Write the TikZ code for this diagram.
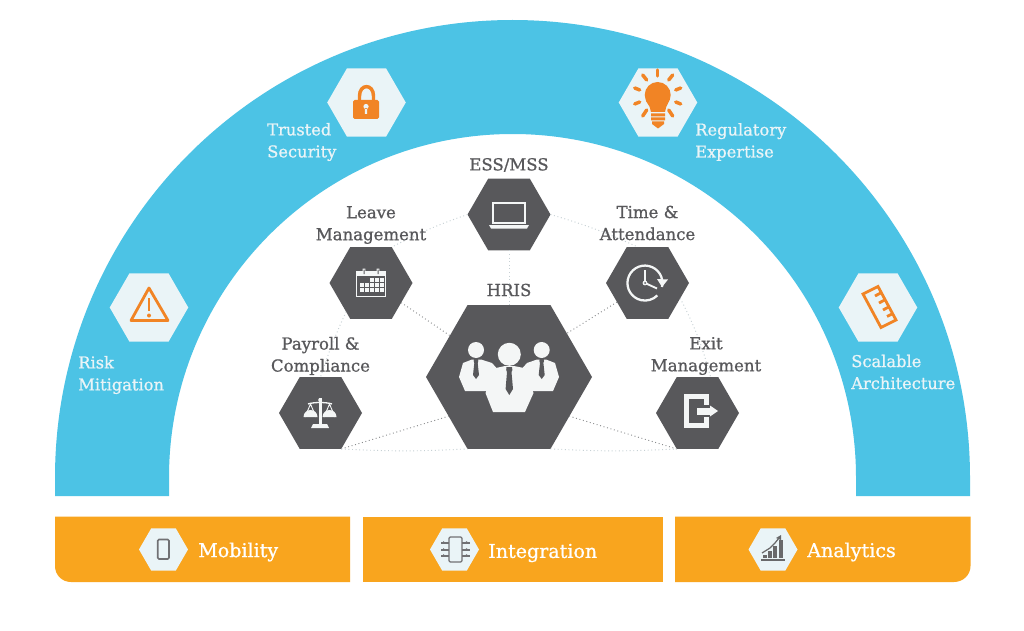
\documentclass[tikz,border=0pt]{standalone}
\usepackage{fontspec}
\setmainfont{DejaVu Serif}[FakeBold=0.9]
\usetikzlibrary{shapes.geometric}
\definecolor{skyband}{HTML}{4CC3E5}
\definecolor{barorange}{HTML}{F9A51E}
\definecolor{paleblue}{HTML}{EAF4F7}
\definecolor{slate}{HTML}{58585B}
\definecolor{iconorange}{HTML}{F18425}
\definecolor{iconwhite}{HTML}{F4F6F6}
\definecolor{linkgrey}{HTML}{8A8C8E}
\definecolor{linklight}{HTML}{C6D0D4}
\tikzset{
  hexbase/.style={regular polygon,regular polygon sides=6,inner sep=0pt,outer sep=0pt,draw=none},
  hexbig/.style={hexbase,fill=slate,minimum size=124.5pt},
  hexdark/.style={hexbase,fill=slate,minimum size=62.25pt},
  hexpale/.style={hexbase,fill=paleblue,minimum size=58.9pt},
  hextiny/.style={hexbase,fill=paleblue,minimum size=36.75pt},
  darklabel/.style={text=slate,align=center,font=\fontsize{12.4}{16.5}\selectfont,inner sep=0pt},
  bandlabel/.style={text=paleblue,align=left,anchor=west,font=\fontsize{12.2}{16.5}\selectfont,inner sep=0pt},
  barlabel/.style={text=white,anchor=west,font=\fontsize{14.3}{17}\selectfont,inner sep=0pt},
  linkdark/.style={draw=linkgrey,line width=.7pt,dotted},
  linkpale/.style={draw=linklight,line width=.7pt,dotted},
  orangeline/.style={draw=iconorange,line width=2.1pt},
  greyline/.style={draw=slate!85,line width=.9pt}
}
\begin{document}
\begin{tikzpicture}[x=.75pt,y=-.75pt]
\useasboundingbox (0,0) rectangle (1024,631);
\fill[white] (0,0) rectangle (1024,631);
% band
\fill[skyband] (55,496) -- (55,477.5) arc[start angle=180,end angle=360,radius=457.5] -- (970,496) -- (856,496) -- (856,477.5) arc[start angle=360,end angle=180,radius=343.5] -- (169,496) -- cycle;
% bars
\fill[barorange] (350,516.5) -- (350,582) -- (71,582) .. controls (62,582) and (55,575) .. (55,566) -- (55,516.5) -- cycle;
\fill[barorange] (363,516.5) rectangle (662.7,582);
\fill[barorange] (675,516.5) -- (970.5,516.5) -- (970.5,566) .. controls (970.5,575) and (963,582) .. (954,582) -- (675,582) -- cycle;
% hexagons
\node[hexbig] (hris) at (509,377) {};
\node[hexdark] (ess) at (509,214.5) {};
\node[hexdark] (leave) at (371,283) {};
\node[hexdark] (time) at (647.5,283) {};
\node[hexdark] (payroll) at (320.5,413) {};
\node[hexdark] (exit) at (697.5,413) {};
\node[hexpale] (trusted) at (366.5,102.5) {};
\node[hexpale] (risk) at (149,307.5) {};
\node[hexpale] (regul) at (658,102.5) {};
\node[hexpale] (scal) at (878,307.5) {};
\node[hextiny] (mob) at (163.5,549.5) {};
\node[hextiny] (integ) at (454.5,549.5) {};
\node[hextiny] (anal) at (773,549.5) {};
% connectors
\draw[linkpale] (ess.corner 3) to[bend right=4] (leave.corner 1);
\draw[linkpale] (ess.corner 6) to[bend left=4] (time.105);
\draw[linkpale] (leave.229) to[bend right=3] (payroll.90);
\draw[linkpale] (time.-25) to[bend left=6] (exit.70);
\draw[linkpale] (ess.270) -- (hris.90);
\draw[linkdark] (leave.-33) -- (hris.145);
\draw[linkdark] (time.212) -- (hris.37);
\draw[linkdark] (payroll.corner 5) -- (hris.213);
\draw[linkdark] (exit.corner 4) -- (hris.-33);
\draw[linkpale] (payroll.corner 5) to[bend right=3] (hris.corner 4);
\draw[linkpale] (hris.corner 5) to[bend right=3] (exit.corner 4);
% labels
\node[darklabel] (lhris) at (509,290) {HRIS};
\node[darklabel] (less) at (509,165) {ESS/MSS};
\node[darklabel] (lleave) at (371,225) {Leave\\Management};
\node[darklabel] (ltime) at (647.5,223) {Time \&\\Attendance};
\node[darklabel] (lpay) at (320.5,356) {Payroll \&\\Compliance};
\node[darklabel] (lexit) at (706,356) {Exit\\Management};
\node[bandlabel] (ltrust) at (267,142) {Trusted\\Security};
\node[bandlabel] (lreg) at (695,142) {Regulatory\\Expertise};
\node[bandlabel] (lrisk) at (78,375) {Risk\\Mitigation};
\node[bandlabel] (lscal) at (851,372) {Scalable\\Architecture};
\node[barlabel] (lmob) at (198,552) {Mobility};
\node[barlabel] (lint) at (488,553) {Integration};
\node[barlabel] (lana) at (807,552) {Analytics};
% lock
\draw[iconorange,line width=2.6pt] (359.5,102) -- (359.5,96) .. controls (359.5,83.5) and (373.5,83.5) .. (373.5,96) -- (373.5,102);
\fill[iconorange,rounded corners=1.2pt] (353,100) rectangle (379,119);
\fill[paleblue] (366,106.5) circle (2.6) (364.8,108) rectangle (367.2,114);
% warning
\draw[orangeline,line join=round] (149,288) -- (131,320.5) -- (168,320.5) -- cycle;
\draw[iconorange,line width=2.1pt] (149,298) -- (149,311);
\fill[iconorange] (149,315.5) circle (2);
% bulb
\fill[iconorange] (657.7,95) circle (13);
\fill[iconorange] (646,101) .. controls (649,106) and (651,108) .. (651,112) -- (665,112) .. controls (665,108) and (667,106) .. (669,101) -- cycle;
\fill[iconorange] (651,113.5) rectangle (665,116.5) (651,117.5) rectangle (665,120.5) (652,121.5) rectangle (664,124);
\fill[iconorange] (652,124) -- (658,128.5) -- (664,124) -- cycle;
\foreach \dx/\dy/\ex/\ey in {0/-19/0/-25,11/-15/15/-20,18/-5/23/-7,18/7/23/9,11/15/15/21,-11/-15/-15/-20,-18/-5/-23/-7,-18/7/-23/9,-11/15/-15/21}
  \draw[iconorange,line width=2.6pt,line cap=round] (657.7+\dx,95+\dy) -- (657.7+\ex,95+\ey);
% ruler
\draw[orangeline,line join=miter] (863,294) -- (878,286.5) -- (896,320) -- (881,327.5) -- cycle;
\draw[orangeline] (881.5,292.5) -- (875,296) (885.5,299.5) -- (879,303) (889.5,306.5) -- (883,310) (893,313.5) -- (887,316.5);
% laptop
\draw[iconwhite,line width=1.5pt] (492.5,202.5) rectangle (524.5,223);
\fill[iconwhite] (489,225) -- (529,225) -- (527,228.5) -- (491,228.5) -- cycle;
% calendar
\draw[iconwhite,line width=1.2pt] (356.5,271.5) rectangle (385.5,296.5);
\fill[iconwhite] (356.5,271.5) rectangle (385.5,276);
\fill[iconwhite] (362.7,268.5) rectangle (365.3,274.5) (376.7,268.5) rectangle (379.3,274.5);
\fill[slate] (363.5,269.5) rectangle (364.5,274) (377.5,269.5) rectangle (378.5,274);
\foreach \cx/\cy in {372/280,377/280,382/280,362/285,367/285,372/285,377/285,382/285,362/290,367/290,372/290,377/290,382/290}
  \fill[iconwhite] (\cx-2,\cy-1.8) rectangle (\cx+2,\cy+1.8);
% clock
\draw[iconwhite,line width=1.7pt] (662,287) arc[start angle=13,end angle=-315,radius=17.5];
\fill[iconwhite] (657,279) -- (668,279.5) -- (662,287) -- cycle;
\draw[iconwhite,line width=1.4pt] (645,270) -- (645,283) -- (657,288.5);
\fill[iconwhite] (645,283) circle (2.4);
\fill[slate] (645,283) circle (1);
% scales
\fill[iconwhite] (319,398) rectangle (321.5,424);
\fill[iconwhite] (320.2,400) circle (2);
\fill[iconwhite] (313,424) -- (327,424) -- (329,428) -- (311,428) -- cycle;
\draw[iconwhite,line width=1pt] (308,404) .. controls (314,402) and (326,402) .. (332,404);
\draw[iconwhite,line width=.7pt] (305,417) -- (310.5,404) -- (316,417) (324,417) -- (329.5,404) -- (335,417);
\fill[iconwhite] (303.5,417) arc[start angle=180,end angle=360,radius=7] -- cycle;
\fill[iconwhite] (322.5,417) arc[start angle=180,end angle=360,radius=7] -- cycle;
% exit
\fill[iconwhite] (684,394) rectangle (709,428);
\fill[slate] (689,399) rectangle (704,423);
\fill[slate] (704,405) rectangle (710,417);
\fill[iconwhite] (697,407.5) rectangle (710,414.5);
\fill[iconwhite] (710,405.5) -- (718,411) -- (710,416.5) -- cycle;
% people
\fill[iconwhite] (476,350) circle (8) (541.7,350) circle (8);
\fill[iconwhite] (463,363) -- (472,359.5) -- (481,359.5) -- (492,363) -- (500,372) -- (492,391) -- (465,391) -- (459,377) -- cycle;
\fill[iconwhite] (555,363) -- (546,359.5) -- (537,359.5) -- (527,363) -- (519,372) -- (527,391) -- (553,391) -- (559,377) -- cycle;
\fill[iconwhite] (509.3,354.3) circle (11.5);
\fill[iconwhite] (496,368) -- (505,366) -- (514,366) -- (524,368) -- (533.5,393) -- (525,412) -- (493,412) -- (485.5,393) -- cycle;
\fill[slate] (474,359) -- (478,359) -- (478.3,361) -- (477.7,363) -- (479,375) -- (476,379) -- (473,375) -- (474.3,363) -- (473.7,361) -- cycle;
\fill[slate] (539.7,359) -- (543.7,359) -- (544,361) -- (543.4,363) -- (544.7,375) -- (541.7,379) -- (538.7,375) -- (540,363) -- (539.4,361) -- cycle;
\fill[slate] (506.5,367) -- (512,367) -- (512.4,370) -- (511.5,372) -- (513,389) -- (509.3,395) -- (505.6,389) -- (507,372) -- (506.2,370) -- cycle;
% phone
\draw[greyline,line width=1.2pt,rounded corners=1pt] (157.7,539.5) rectangle (169,559);
% chip
\draw[greyline,rounded corners=1pt] (449,537) rectangle (462,562);
\foreach \py in {543,550,556}{
  \draw[greyline] (441,\py) -- (449,\py) (462,\py) -- (470,\py);
  \fill[slate!85] (443,\py-2) -- (446,\py) -- (443,\py) -- cycle (467,\py-2) -- (464,\py) -- (467,\py) -- cycle;
}
% analytics
\fill[slate!90] (761,558.5) rectangle (785,560.5);
\foreach \bx/\by in {765/555,770/551,775/546,781/540}
  \fill[slate!90] (\bx-1.7,\by) rectangle (\bx+1.7,558);
\draw[slate!90,line width=.9pt] (762,553) -- (770,548) -- (775,543) -- (779,538);
\fill[slate!90] (781,535) -- (781,540) -- (776,538) -- cycle;
\end{tikzpicture}
\end{document}
